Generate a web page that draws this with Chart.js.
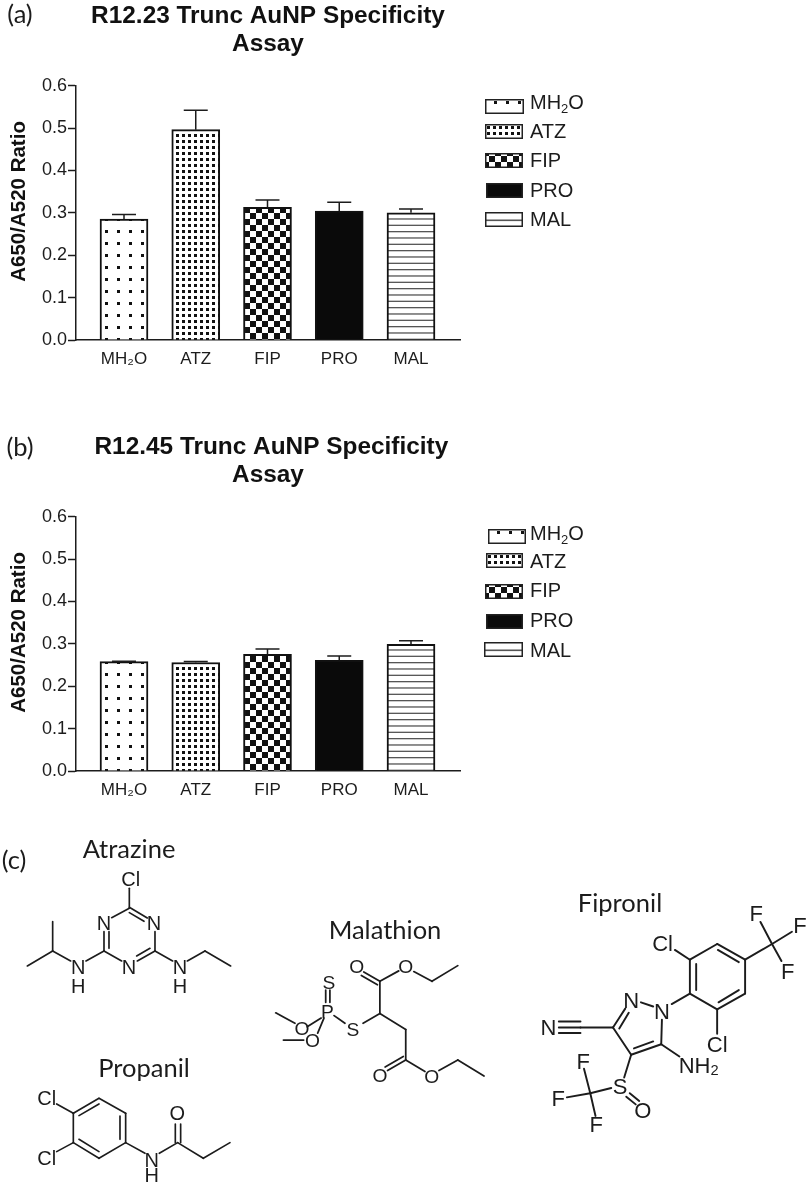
<!DOCTYPE html>
<html>
<head>
<meta charset="utf-8">
<title>AuNP specificity assay</title>
<script src="https://cdn.jsdelivr.net/npm/chart.js@4"></script>
<style>
  html, body { margin: 0; background: #fff; }
  #page { position: relative; width: 808px; height: 1182px; overflow: hidden; }
  canvas.chart { position: absolute; left: 0; }
  #structures { position: absolute; left: 0; top: 0; }
  #structures line { stroke: #1c1c1c; stroke-width: 5; stroke-linecap: round; }
  #structures text.atom { font-family: "Liberation Sans", sans-serif; fill: #1c1c1c; text-anchor: middle; dominant-baseline: central; }
  #structures text.name { font-family: Lato, sans-serif; font-size: 25.5px; fill: #1c1c1c; text-anchor: middle; dominant-baseline: central; }
  #structures g.fipronil line { stroke-width: 5.5; }
  .swatch { position: absolute; }
  .legend-label { position: absolute; left: 530px; font: 20px/24px "Liberation Sans", sans-serif; color: #1c1c1c; white-space: nowrap; }
  .legend-label sub { font-size: 13px; line-height: 0; vertical-align: -4px; }
</style>
</head>
<body>
<div id="page">
  <canvas class="chart" id="chart-a" width="600" height="390" style="top:0"></canvas>
  <canvas class="chart" id="chart-b" width="600" height="390" style="top:431px"></canvas>

  <svg id="structures" width="808" height="1182" viewBox="0 0 808 1182">
    <text class="name" x="20" y="13">(a)</text>
    <text class="name" x="20" y="446">(b)</text>
    <text class="name" x="14" y="859">(c)</text>
    <text class="name" x="129" y="848">Atrazine</text>
    <text class="name" x="144" y="1067">Propanil</text>
    <text class="name" x="385" y="929">Malathion</text>
    <text class="name" x="620" y="902">Fipronil</text>

    <!-- atrazine + propanil, units of the 3x crop -->
    <g transform="translate(0,820) scale(0.3333)" font-size="60">
      <g>
        <line x1="388" y1="205" x2="388" y2="262"/><line x1="388" y1="262" x2="442" y2="294"/><line x1="388" y1="278" x2="432" y2="304"/>
        <line x1="388" y1="265" x2="335" y2="293"/><line x1="312" y1="335" x2="312" y2="393"/><line x1="327" y1="335" x2="327" y2="385"/>
        <line x1="312" y1="393" x2="365" y2="423"/><line x1="412" y1="423" x2="465" y2="393"/><line x1="410" y1="408" x2="450" y2="385"/>
        <line x1="465" y1="335" x2="465" y2="393"/><line x1="312" y1="393" x2="258" y2="423"/><line x1="212" y1="423" x2="158" y2="393"/>
        <line x1="158" y1="393" x2="158" y2="305"/><line x1="158" y1="393" x2="82" y2="438"/><line x1="465" y1="393" x2="518" y2="423"/>
        <line x1="562" y1="423" x2="615" y2="393"/><line x1="615" y1="393" x2="692" y2="438"/>
        <text class="atom" x="392" y="178">Cl</text><text class="atom" x="312" y="310">N</text><text class="atom" x="462" y="310">N</text>
        <text class="atom" x="387" y="441">N</text><text class="atom" x="235" y="440">N</text><text class="atom" x="235" y="498">H</text>
        <text class="atom" x="540" y="440">N</text><text class="atom" x="540" y="498">H</text>
      </g>
      <g>
        <line x1="297" y1="835" x2="377" y2="880"/><line x1="377" y1="880" x2="377" y2="968"/><line x1="377" y1="968" x2="297" y2="1015"/>
        <line x1="297" y1="1015" x2="220" y2="968"/><line x1="220" y1="968" x2="220" y2="880"/><line x1="220" y1="880" x2="297" y2="835"/>
        <line x1="297" y1="852" x2="237" y2="887"/><line x1="360" y1="888" x2="360" y2="958"/><line x1="237" y1="958" x2="297" y2="995"/>
        <line x1="170" y1="852" x2="220" y2="880"/><line x1="170" y1="995" x2="220" y2="968"/><line x1="377" y1="968" x2="435" y2="1000"/>
        <line x1="478" y1="1000" x2="533" y2="968"/><line x1="526" y1="968" x2="526" y2="912"/><line x1="542" y1="968" x2="542" y2="912"/>
        <line x1="533" y1="968" x2="610" y2="1015"/><line x1="610" y1="1015" x2="690" y2="968"/>
        <text class="atom" x="140" y="835">Cl</text><text class="atom" x="140" y="1015">Cl</text><text class="atom" x="455" y="1020">N</text>
        <text class="atom" x="455" y="1066">H</text><text class="atom" x="532" y="880">O</text>
      </g>
    </g>

    <!-- malathion + fipronil, units of the wide crop -->
    <g transform="translate(260,880) scale(0.3495)">
      <g font-size="55">
        <line x1="343" y1="290" x2="297" y2="263"/><line x1="336" y1="300" x2="290" y2="273"/><line x1="343" y1="290" x2="397" y2="260"/>
        <line x1="440" y1="262" x2="492" y2="290"/><line x1="492" y1="290" x2="566" y2="245"/><line x1="343" y1="290" x2="343" y2="382"/>
        <line x1="343" y1="382" x2="295" y2="410"/><line x1="212" y1="388" x2="243" y2="410"/><line x1="188" y1="350" x2="188" y2="315"/>
        <line x1="200" y1="350" x2="200" y2="315"/><line x1="175" y1="395" x2="135" y2="420"/><line x1="100" y1="410" x2="45" y2="380"/>
        <line x1="183" y1="395" x2="165" y2="438"/><line x1="125" y1="458" x2="67" y2="458"/><line x1="343" y1="382" x2="417" y2="428"/>
        <line x1="417" y1="428" x2="417" y2="515"/><line x1="417" y1="515" x2="365" y2="545"/><line x1="410" y1="505" x2="358" y2="535"/>
        <line x1="417" y1="515" x2="472" y2="548"/><line x1="512" y1="545" x2="566" y2="515"/><line x1="566" y1="515" x2="641" y2="561"/>
        <text class="atom" x="277" y="248">O</text><text class="atom" x="417" y="247">O</text><text class="atom" x="266" y="428">S</text>
        <text class="atom" x="193" y="376">P</text><text class="atom" x="197" y="293">S</text><text class="atom" x="120" y="425">O</text>
        <text class="atom" x="150" y="460">O</text><text class="atom" x="343" y="560">O</text><text class="atom" x="491" y="561">O</text>
      </g>
      <g class="fipronil" font-size="63">
        <line x1="1230" y1="325" x2="1230" y2="228"/><line x1="1230" y1="228" x2="1308" y2="183"/><line x1="1308" y1="183" x2="1388" y2="228"/>
        <line x1="1388" y1="228" x2="1388" y2="325"/><line x1="1388" y1="325" x2="1308" y2="370"/><line x1="1308" y1="370" x2="1230" y2="325"/>
        <line x1="1248" y1="315" x2="1248" y2="240"/><line x1="1310" y1="200" x2="1370" y2="235"/><line x1="1370" y1="315" x2="1312" y2="350"/>
        <line x1="1187" y1="200" x2="1230" y2="228"/><line x1="1308" y1="370" x2="1308" y2="440"/><line x1="1388" y1="228" x2="1465" y2="183"/>
        <line x1="1465" y1="183" x2="1432" y2="120"/><line x1="1465" y1="183" x2="1522" y2="148"/><line x1="1465" y1="183" x2="1492" y2="232"/>
        <line x1="1178" y1="355" x2="1230" y2="325"/><line x1="1090" y1="350" x2="1125" y2="362"/><line x1="1150" y1="400" x2="1148" y2="470"/>
        <line x1="1148" y1="470" x2="1062" y2="500"/><line x1="1125" y1="462" x2="1070" y2="482"/><line x1="1062" y1="500" x2="1010" y2="422"/>
        <line x1="1010" y1="422" x2="1045" y2="368"/><line x1="1028" y1="425" x2="1055" y2="380"/><line x1="1010" y1="422" x2="917" y2="422"/>
        <line x1="917" y1="405" x2="855" y2="405"/><line x1="917" y1="422" x2="855" y2="422"/><line x1="917" y1="438" x2="855" y2="438"/>
        <line x1="1148" y1="470" x2="1200" y2="505"/><line x1="1062" y1="500" x2="1042" y2="565"/><line x1="1048" y1="620" x2="1075" y2="642"/>
        <line x1="1058" y1="610" x2="1085" y2="632"/><line x1="1005" y1="595" x2="945" y2="610"/><line x1="945" y1="610" x2="927" y2="540"/>
        <line x1="945" y1="610" x2="878" y2="622"/><line x1="945" y1="610" x2="960" y2="675"/>
        <text class="atom" x="1152" y="183">Cl</text><text class="atom" x="1308" y="470">Cl</text><text class="atom" x="1420" y="97">F</text>
        <text class="atom" x="1545" y="130">F</text><text class="atom" x="1510" y="262">F</text><text class="atom" x="1150" y="375">N</text>
        <text class="atom" x="1062" y="345">N</text><text class="atom" x="825" y="422">N</text><text class="atom" x="1255" y="530">NH<tspan font-size="42" dy="14">2</tspan></text>
        <text class="atom" x="1030" y="592">S</text><text class="atom" x="1095" y="660">O</text><text class="atom" x="925" y="518">F</text>
        <text class="atom" x="853" y="625">F</text><text class="atom" x="962" y="700">F</text>
      </g>
    </g>
  </svg>
</div>

<script>
// categories + values
const categories = ['MH₂O', 'ATZ', 'FIP', 'PRO', 'MAL'];
const legendLabels = ['MH<sub>2</sub>O', 'ATZ', 'FIP', 'PRO', 'MAL'];
const fills = ['dots', 'grid', 'check', 'solid', 'lines'];

const titleA = ['R12.23 Trunc AuNP Specificity', 'Assay'];
const valuesA = [0.285, 0.496, 0.313, 0.304, 0.300];
const errorTopA = [0.296, 0.542, 0.330, 0.325, 0.309];

// leading space: first line sits 3px right of centre in panel (b)
const titleB = [' R12.45 Trunc AuNP Specificity', 'Assay'];
const valuesB = [0.258, 0.256, 0.275, 0.261, 0.299];
const errorTopB = [0.259, 0.258, 0.288, 0.271, 0.307];

const INK = '#1c1c1c';
Chart.defaults.font.family = '"Liberation Sans", Arial, sans-serif';
Chart.defaults.color = INK;

// same hatch tiles for bars and legend
function makePattern(kind) {
  if (kind === 'solid') return '#0a0a0a';
  const tile = document.createElement('canvas');
  const size = { dots: [12, 12], grid: [6, 6], check: [12, 12], lines: [4, 19], swatchLine: [4, 15] }[kind];
  tile.width = size[0];
  tile.height = size[1];
  const c = tile.getContext('2d');
  c.fillStyle = '#fff';
  c.fillRect(0, 0, size[0], size[1]);
  c.fillStyle = '#111';
  if (kind === 'dots') {
    c.fillRect(9, 2, 3, 3);
  } else if (kind === 'grid') {
    c.fillRect(2, 2, 3, 3);
  } else if (kind === 'check') {
    c.fillRect(4, 3, 6, 6);
    c.fillRect(10, 9, 2, 6);
    c.fillRect(0, 9, 4, 6);
    c.fillRect(10, 0, 2, 3);
    c.fillRect(0, 0, 4, 3);
  } else if (kind === 'lines') {
    c.fillStyle = '#555';
    [3, 9.33, 15.67].forEach((y) => c.fillRect(0, y, 4, 1.3));
  } else {
    c.fillStyle = '#555';
    c.fillRect(0, 7.5, 4, 1.6);
  }
  return c.createPattern(tile, 'repeat');
}

// error bars only go upward, no built-in for this in Chart.js
const errorBars = {
  id: 'errorBars',
  afterDatasetsDraw(chart) {
    const { ctx, scales: { x, y } } = chart;
    const ds = chart.data.datasets[0];
    ctx.save();
    ctx.strokeStyle = INK;
    ctx.lineWidth = 1.5;
    ds.errorTop.forEach((top, i) => {
      const px = x.getPixelForValue(ds.data[i].x);
      const yTop = y.getPixelForValue(top);
      ctx.beginPath();
      ctx.moveTo(px, y.getPixelForValue(ds.data[i].y));
      ctx.lineTo(px, yTop);
      ctx.moveTo(px - 12, yTop);
      ctx.lineTo(px + 12, yTop);
      ctx.stroke();
    });
    ctx.restore();
  },
};

function renderChart(canvasId, title, values, errorTop) {
  return new Chart(document.getElementById(canvasId), {
    type: 'bar',
    data: {
      datasets: [{
        data: values.map((v, i) => ({ x: i + 1, y: v })),
        errorTop,
        backgroundColor: fills.map(makePattern),
        borderColor: '#111',
        borderWidth: 2,
        barThickness: 48,
      }],
    },
    plugins: [errorBars],
    options: {
      responsive: false,
      animation: false,
      layout: { padding: { right: 140, bottom: 0 } },
      plugins: {
        legend: { display: false },
        tooltip: { enabled: false },
        title: {
          display: true,
          text: title,
          fullSize: false,
          color: '#111',
          font: { size: 24.4, weight: 'bold', lineHeight: 1.16 },
          padding: { top: 2, bottom: 27 },
        },
      },
      scales: {
        x: {
          type: 'linear',
          offset: false,
          min: 0.331,
          max: 5.683,
          afterBuildTicks: (s) => { s.ticks = categories.map((_, i) => ({ value: i + 1 })); },
          afterFit: (s) => { s.height = 50; },
          border: { color: INK, width: 1.5 },
          grid: { display: false },
          ticks: {
            autoSkip: false,
            maxRotation: 0,
            padding: 1,
            color: INK,
            font: { size: 17 },
            callback: (v) => categories[v - 1],
          },
        },
        y: {
          min: 0,
          max: 0.6,
          afterFit: (s) => { s.width = 76; },
          border: { color: INK, width: 1.5 },
          grid: { drawOnChartArea: false, tickLength: 8, tickColor: INK, tickWidth: 1.5 },
          ticks: { stepSize: 0.1, padding: 1, color: INK, font: { size: 18 }, callback: (v) => v.toFixed(1) },
          // leading spaces: label sits about 10px above the axis middle in the figure
          title: {
            display: true,
            text: '    A650/A520 Ratio',
            color: '#111',
            font: { size: 20.5, weight: 'bold', lineHeight: 1.2 },
            padding: { top: 7, bottom: 0 },
          },
        },
      },
    },
  });
}

function renderLegend(tops, lefts, widths, textTops) {
  const page = document.getElementById('page');
  fills.forEach((kind, i) => {
    const sw = document.createElement('canvas');
    sw.className = 'swatch';
    sw.width = widths[i];
    sw.height = 15;
    sw.style.left = lefts[i] + 'px';
    sw.style.top = tops[i] + 'px';
    const c = sw.getContext('2d');
    c.fillStyle = makePattern(kind === 'lines' ? 'swatchLine' : kind);
    c.fillRect(0, 0, widths[i], 15);
    c.strokeStyle = '#222';
    c.lineWidth = 1.5;
    c.strokeRect(0.75, 0.75, widths[i] - 1.5, 13.5);
    page.appendChild(sw);

    const label = document.createElement('div');
    label.className = 'legend-label';
    label.innerHTML = legendLabels[i];
    label.style.top = textTops[i] + 'px';
    page.appendChild(label);
  });
}

renderChart('chart-a', titleA, valuesA, errorTopA);
renderChart('chart-b', titleB, valuesB, errorTopB);
renderLegend([99, 124, 153, 183, 212], [485, 485, 485, 486, 485], [39, 38, 38, 37, 38], [90, 119, 148, 178, 207]);
renderLegend([529, 553, 584, 614, 642], [488, 486, 485, 486, 484], [38, 37, 38, 37, 39], [521, 549, 578, 608, 638]);
</script>
</body>
</html>
